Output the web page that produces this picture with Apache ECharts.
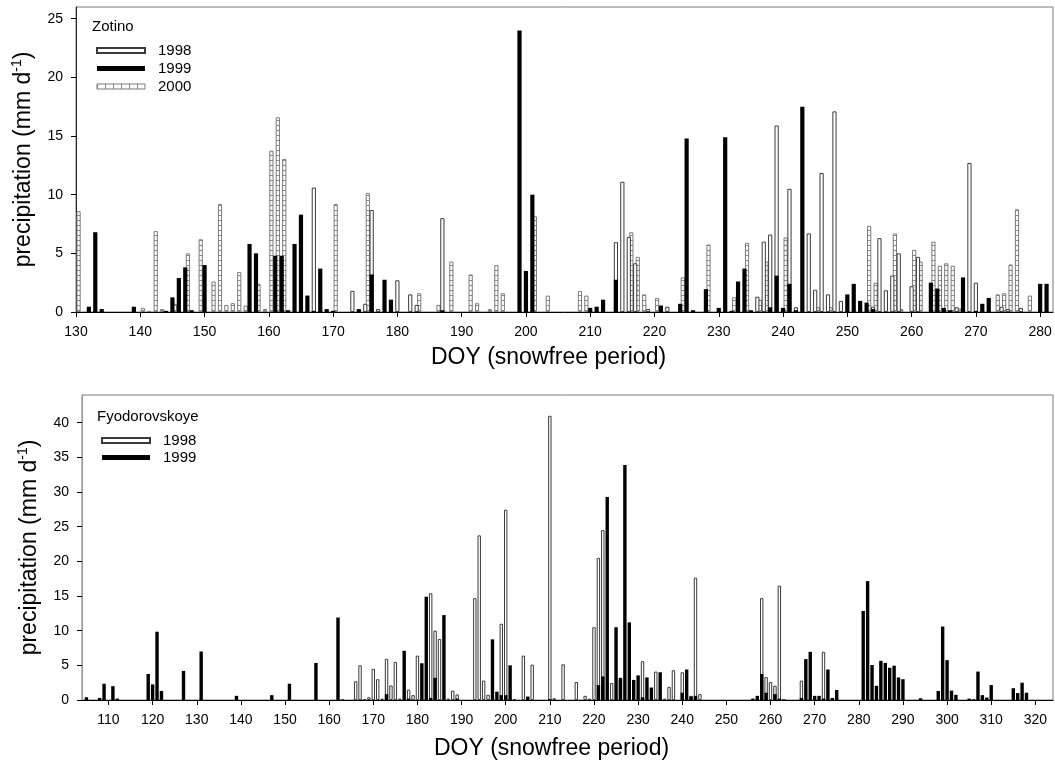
<!DOCTYPE html>
<html>
<head>
<meta charset="utf-8">
<script src="https://cdn.jsdelivr.net/npm/echarts@6/dist/echarts.min.js"></script>
<style>
  html, body { margin: 0; padding: 0; background: #fff; }
  #chart { width: 1055px; height: 766px; }
</style>
</head>
<body>
<div id="chart"></div>
<script>
// Daily precipitation (mm/day) during the snow-free period, by day of year

// Zotino
const zotDays1998 = [167,173,175,176,177,180,182,183,187,214,215,216,217,219,222,236,237,238,239,241,242,244,245,246,247,248,249,254,255,256,257,258,260,261,267,269,270,274,275,277];
const zotVals1998 = [10.6,1.8,0.7,8.7,0.25,2.7,1.5,0.6,8.0,5.95,11.1,6.4,4.15,0.25,0.45,1.3,6.0,6.6,15.9,10.5,0.4,6.7,1.9,11.85,1.5,17.1,0.95,0.45,6.3,1.85,3.1,5.0,2.2,4.7,0.4,12.7,2.5,0.45,0.25,0.35];

const zotDays1999 = [132,133,134,139,144,145,146,147,148,150,157,158,161,162,163,164,165,166,167,168,169,170,174,176,178,179,187,199,200,201,210,211,212,214,221,224,225,226,228,230,231,232,233,234,235,238,239,240,241,242,243,250,251,252,253,254,263,264,265,266,268,270,271,272,280,281];
const zotVals1999 = [0.45,6.8,0.25,0.45,0.1,1.25,2.9,3.8,0.15,4.0,5.8,5.0,4.8,4.8,0.15,5.8,8.3,1.4,0.1,3.7,0.25,0.1,0.25,3.2,2.75,1.05,0.15,24.0,3.5,10.0,0.35,0.45,1.05,2.75,0.55,0.7,14.8,0.15,1.95,0.35,14.9,0.1,2.6,3.7,0.15,0.4,3.1,0.35,2.4,0.15,17.5,1.5,2.4,0.95,0.8,0.25,2.5,2.0,0.35,0.15,2.95,0.1,0.7,1.2,2.4,2.4];

const zotDays2000 = [130,140,141,142,143,145,147,149,151,152,153,154,155,156,158,159,160,161,162,170,175,183,186,188,191,192,194,195,196,201,203,208,209,216,217,218,220,224,228,232,234,236,237,240,245,247,253,254,257,258,260,261,263,264,265,266,267,273,274,275,276,278];
const zotVals2000 = [8.6,0.35,0.1,6.9,0.25,0.7,5.0,6.2,2.6,9.2,0.6,0.75,3.4,0.55,2.4,0.25,13.75,16.6,13.05,9.2,10.15,1.6,0.6,4.3,3.2,0.75,0.25,4.0,1.6,8.15,1.4,1.8,1.4,6.8,4.7,1.5,1.2,2.95,5.75,1.25,5.9,1.05,4.3,6.35,0.4,0.4,7.35,2.5,6.7,0.25,5.3,4.3,6.0,3.95,4.15,3.95,0.3,1.5,1.6,4.05,8.75,1.4];

// Fyodorovskoye
const fyoDays1998 = [163,166,167,168,169,170,171,172,173,174,175,176,178,179,180,183,184,185,187,188,189,193,194,195,196,199,200,202,204,206,210,211,213,216,218,219,220,221,222,224,226,231,234,236,237,238,240,242,243,244,258,259,260,261,262,267,272];
const fyoVals1998 = [0.1,2.7,5.0,0.1,0.4,4.5,3.0,0.2,5.95,2.1,5.5,0.2,1.5,0.7,6.4,15.4,10.0,8.8,0.2,1.35,0.8,14.7,23.75,2.8,0.75,11.0,27.45,0.1,6.4,5.1,41.0,0.25,5.15,2.6,0.6,0.2,10.5,20.5,24.5,2.45,3.0,5.6,4.1,0.2,1.9,4.3,4.0,0.6,17.65,0.85,14.7,3.3,2.6,2.05,16.5,2.8,6.95];

const fyoDays1999 = [105,108,109,111,112,119,120,121,122,127,131,139,147,151,157,162,173,177,178,181,182,183,184,186,189,197,198,199,200,201,205,210,221,222,223,225,226,227,228,229,230,231,232,233,235,240,241,242,243,256,257,258,259,261,262,263,267,268,269,270,271,272,273,274,275,281,282,283,284,285,286,287,288,289,290,294,298,299,300,301,302,305,306,307,308,309,310,315,316,317,318];
const fyoVals1999 = [0.4,0.3,2.35,2.0,0.2,3.75,2.25,9.85,1.3,4.2,7.0,0.6,0.7,2.35,5.35,11.9,0.85,7.1,0.2,5.3,14.9,0.3,3.2,12.25,0.2,8.75,1.2,0.7,0.7,5.0,0.5,0.15,2.15,3.4,29.3,10.5,3.2,33.9,11.2,2.9,3.55,0.4,3.25,1.8,4.0,1.05,4.4,0.5,0.6,0.2,0.6,3.75,1.05,0.85,0.2,0.1,0.3,5.9,6.95,0.6,0.6,0.2,4.4,0.3,1.45,12.85,17.15,5.05,2.05,5.65,5.35,4.65,4.95,3.25,3.0,0.25,1.3,10.6,5.75,1.35,0.75,0.2,0.1,4.1,0.7,0.35,2.15,1.7,1.0,2.5,1.05];

// Tick labels
const zotTicksX = [130,140,150,160,170,180,190,200,210,220,230,240,250,260,270,280];
const zotTicksY = [0,5,10,15,20,25];
const fyoTicksX = [110,120,130,140,150,160,170,180,190,200,210,220,230,240,250,260,270,280,290,300,310,320];
const fyoTicksY = [0,5,10,15,20,25,30,35,40];

const FONT = '"Liberation Sans", Arial, Helvetica, sans-serif';

function pairs(days, vals) {
  return days.map((d, i) => [d, vals[i]]);
}

// Ladder hatching for the 2000 bars (rungs across the bar)
function hatch(w, h, vertical) {
  const c = document.createElement('canvas');
  c.width = w; c.height = h;
  const g = c.getContext('2d');
  g.fillStyle = '#ffffff';
  g.fillRect(0, 0, w, h);
  g.fillStyle = '#8a8a8a';
  if (vertical) g.fillRect(0, 0, 1, h); else g.fillRect(0, 0, w, 1);
  return c;
}
const hatchBars = { image: hatch(4, 5, false), repeat: 'repeat' };
const hatchLegend = { image: hatch(8, 4, true), repeat: 'repeat' };

const style1998 = { color: '#ffffff', borderColor: '#3a3a3a', borderWidth: 1 };
const style1999 = { color: '#000000', borderWidth: 0 };
const style2000 = { color: hatchBars, borderColor: '#7a7a7a', borderWidth: 1 };

// 2000 bars sit a little right of the other years on the same day
const SHIFT_2000 = 0.4;

const yName = 'precipitation (mm d{sup|-1})';
const yNameStyle = {
  fontFamily: FONT, fontSize: 23, color: '#000', lineHeight: 26,
  rich: { sup: { fontFamily: FONT, fontSize: 14, verticalAlign: 'top', lineHeight: 26, padding: [0, 0, 7, 0] } }
};

function valueXAxis(grid, min, max, ticks, extra) {
  return Object.assign({
    type: 'value', gridIndex: grid, min: min, max: max,
    axisLine: { show: true, onZero: false, lineStyle: { color: '#000', width: 1 } },
    axisTick: { show: true, inside: false, length: 5, customValues: ticks, lineStyle: { color: '#000' } },
    axisLabel: { show: true, customValues: ticks, margin: 13, fontFamily: FONT, fontSize: 14, color: '#000' },
    splitLine: { show: false },
    name: 'DOY (snowfree period)', nameLocation: 'middle',
    nameTextStyle: { fontFamily: FONT, fontSize: 23, color: '#000', padding: [0, 32, 0, 0] }
  }, extra);
}

function valueYAxis(grid, max, ticks, lineColor, gap) {
  return {
    type: 'value', gridIndex: grid, min: 0, max: max,
    axisLine: { show: true, lineStyle: { color: lineColor, width: 1 } },
    axisTick: { show: true, inside: false, length: 5, customValues: ticks, lineStyle: { color: '#000' } },
    axisLabel: { show: true, customValues: ticks, margin: 13, fontFamily: FONT, fontSize: 14, color: '#000' },
    splitLine: { show: false },
    name: yName, nameLocation: 'middle', nameGap: gap, nameTextStyle: yNameStyle
  };
}

const chart = echarts.init(document.getElementById('chart'), null, { renderer: 'canvas' });

chart.setOption({
  animation: false,
  backgroundColor: '#fff',
  grid: [
    { left: 76, right: 2, top: 7, bottom: 454, show: true, borderColor: '#7a7a7a', borderWidth: 1, containLabel: false },
    { left: 82, right: 2, top: 395, bottom: 66, show: true, borderColor: '#7a7a7a', borderWidth: 1, containLabel: false }
  ],
  xAxis: [
    valueXAxis(0, 130, 282, zotTicksX, { nameGap: 34 }),
    { type: 'value', gridIndex: 0, min: 130 - SHIFT_2000, max: 282 - SHIFT_2000, show: false },
    valueXAxis(1, 104, 324, fyoTicksX, { nameGap: 37 })
  ],
  yAxis: [
    valueYAxis(0, 26, zotTicksY, '#222', 30),
    valueYAxis(1, 44, fyoTicksY, '#9a9a9a', 36)
  ],
  graphic: [
    { type: 'text', left: 92, top: 19, style: { text: 'Zotino', fontFamily: FONT, fontSize: 15, fill: '#000' } },
    { type: 'text', left: 97, top: 409, style: { text: 'Fyodorovskoye', fontFamily: FONT, fontSize: 15, fill: '#000' } }
  ],
  legend: [
    {
      orient: 'vertical', left: 91, top: 38, itemWidth: 48, itemHeight: 5, itemGap: 3,
      icon: 'rect', selectedMode: false,
      textStyle: { fontFamily: FONT, fontSize: 15, color: '#000', padding: [0, 0, 0, 8] },
      data: ['1998', '1999', { name: '2000', itemStyle: { color: hatchLegend, borderColor: '#7a7a7a', borderWidth: 1 } }]
    },
    {
      orient: 'vertical', left: 96, top: 428, itemWidth: 48, itemHeight: 5, itemGap: 2,
      icon: 'rect', selectedMode: false,
      textStyle: { fontFamily: FONT, fontSize: 15, color: '#000', padding: [0, 0, 0, 8] },
      data: ['1998', '1999']
    }
  ],
  series: [
    {
      name: '2000', type: 'bar', xAxisIndex: 1, yAxisIndex: 0, barWidth: 4.2,
      itemStyle: style2000, data: pairs(zotDays2000, zotVals2000)
    },
    {
      name: '1998', type: 'bar', xAxisIndex: 0, yAxisIndex: 0, barWidth: 4.2,
      itemStyle: style1998, data: pairs(zotDays1998, zotVals1998)
    },
    {
      name: '1999', type: 'bar', xAxisIndex: 0, yAxisIndex: 0, barWidth: 4.2, barGap: '-100%',
      itemStyle: style1999, data: pairs(zotDays1999, zotVals1999)
    },
    {
      name: '1998', type: 'bar', xAxisIndex: 2, yAxisIndex: 1, barWidth: 3.4,
      itemStyle: style1998, data: pairs(fyoDays1998, fyoVals1998)
    },
    {
      name: '1999', type: 'bar', xAxisIndex: 2, yAxisIndex: 1, barWidth: 3.4, barGap: '-100%',
      itemStyle: style1999, data: pairs(fyoDays1999, fyoVals1999)
    }
  ]
});
</script>
</body>
</html>
